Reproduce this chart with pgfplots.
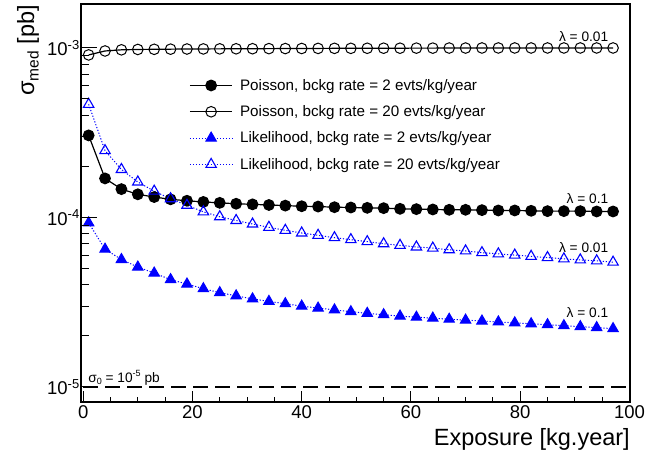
\documentclass[border=0pt]{standalone}
\usepackage{fontspec}
\setmainfont{Liberation Sans}
\usepackage{pgfplots}
\pgfplotsset{compat=1.18}
\definecolor{rootblue}{rgb}{0,0,1}
\begin{document}
\begin{tikzpicture}
\path[use as bounding box] (-81pt,-54pt) rectangle (589pt,402pt);
\begin{axis}[
  at={(0pt,0pt)}, anchor=south west,
  scale only axis, width=549pt, height=398pt,
  ymode=log, xmin=-0.4, xmax=100.1, ymin=8.155e-6, ymax=1.817e-3,
  axis line style={line width=1.5pt},
  xtick={0,20,40,60,80,100}, xticklabels={0,20,40,60,80,100},
  minor x tick num=3,
  ytick=\empty,
  xtick pos=lower, ytick pos=left, tick align=inside,
  major tick length=11pt, minor tick length=5.5pt,
  tick style={black, line width=1pt},
  xticklabel style={font=\fontsize{18.5}{21}\selectfont},
  xlabel={Exposure [kg.year]},
  xlabel style={font=\fontsize{23.5}{26}\selectfont, at={(axis description cs:1,0)}, anchor=north east, inner sep=0pt, yshift=-26pt},
  legend style={at={(axis description cs:0,1)}, anchor=north west, xshift=105pt, yshift=-71pt, draw=none, fill=none, font=\fontsize{15.2}{17}\selectfont, row sep=9.8pt, /tikz/every odd column/.append style={column sep=5pt}},
  legend cell align=left,
  legend image code/.code={\draw[mark repeat=2,mark phase=2,#1] plot coordinates {(0cm,0cm) (0.75cm,0cm) (1.5cm,0cm)};},
]
\addplot[black, line width=1.2pt, mark=*, mark size=5.3pt, mark options={solid}] coordinates {
(1,3.05e-4) (4,1.70e-4) (7,1.47e-4) (10,1.37e-4) (13,1.32e-4) (16,1.28e-4) (19,1.255e-4) (22,1.235e-4) (25,1.22e-4) (28,1.205e-4) (31,1.195e-4) (34,1.185e-4) (37,1.175e-4) (40,1.165e-4) (43,1.16e-4) (46,1.15e-4) (49,1.145e-4) (52,1.14e-4) (55,1.135e-4) (58,1.125e-4) (61,1.12e-4) (64,1.115e-4) (67,1.11e-4) (70,1.11e-4) (73,1.105e-4) (76,1.10e-4) (79,1.10e-4) (82,1.095e-4) (85,1.09e-4) (88,1.09e-4) (91,1.09e-4) (94,1.085e-4) (97,1.085e-4)};
\addlegendentry{Poisson, bckg rate = 2 evts/kg/year}
\addplot[black, line width=1.2pt, mark=o, mark size=5.3pt, mark options={solid, line width=1pt}] coordinates {
(1,9.10e-4) (4,9.60e-4) (7,9.75e-4) (10,9.80e-4) (13,9.82e-4) (16,9.84e-4) (19,9.86e-4) (22,9.87e-4) (25,9.88e-4) (28,9.89e-4) (31,9.90e-4) (34,9.91e-4) (37,9.92e-4) (40,9.93e-4) (43,9.94e-4) (46,9.95e-4) (49,9.95e-4) (52,9.96e-4) (55,9.97e-4) (58,9.97e-4) (61,9.98e-4) (64,9.98e-4) (67,9.99e-4) (70,9.99e-4) (73,1.00e-3) (76,1.00e-3) (79,1.00e-3) (82,1.00e-3) (85,1.00e-3) (88,1.00e-3) (91,1.00e-3) (94,1.00e-3) (97,1.00e-3)};
\addlegendentry{Poisson, bckg rate = 20 evts/kg/year}
\addplot[rootblue, line width=1pt, dash pattern=on 1.2pt off 1.8pt, mark=triangle*, mark size=6pt, mark options={solid, fill=rootblue}] coordinates {
(1,9.30e-5) (4,6.50e-5) (7,5.65e-5) (10,5.10e-5) (13,4.70e-5) (16,4.30e-5) (19,4.05e-5) (22,3.80e-5) (25,3.60e-5) (28,3.45e-5) (31,3.31e-5) (34,3.20e-5) (37,3.10e-5) (40,3.00e-5) (43,2.92e-5) (46,2.85e-5) (49,2.78e-5) (52,2.72e-5) (55,2.67e-5) (58,2.62e-5) (61,2.58e-5) (64,2.55e-5) (67,2.51e-5) (70,2.48e-5) (73,2.45e-5) (76,2.42e-5) (79,2.39e-5) (82,2.36e-5) (85,2.33e-5) (88,2.30e-5) (91,2.27e-5) (94,2.24e-5) (97,2.21e-5)};
\addlegendentry{Likelihood, bckg rate = 2 evts/kg/year}
\addplot[rootblue, line width=1pt, dash pattern=on 1.2pt off 1.8pt, mark=triangle, mark size=6pt, mark options={solid, line width=1.1pt}] coordinates {
(1,4.65e-4) (4,2.48e-4) (7,1.92e-4) (10,1.62e-4) (13,1.43e-4) (16,1.29e-4) (19,1.18e-4) (22,1.08e-4) (25,1.01e-4) (28,9.60e-5) (31,9.15e-5) (34,8.75e-5) (37,8.40e-5) (40,8.10e-5) (43,7.85e-5) (46,7.60e-5) (49,7.40e-5) (52,7.20e-5) (55,7.00e-5) (58,6.85e-5) (61,6.70e-5) (64,6.60e-5) (67,6.45e-5) (70,6.35e-5) (73,6.20e-5) (76,6.10e-5) (79,6.00e-5) (82,5.90e-5) (85,5.80e-5) (88,5.70e-5) (91,5.62e-5) (94,5.55e-5) (97,5.45e-5)};
\addlegendentry{Likelihood, bckg rate = 20 evts/kg/year}
\addplot[black, line width=1.5pt, dash pattern=on 15pt off 7pt, forget plot] coordinates {(0,1e-5) (100,1e-5)};
\node[anchor=base west, font=\fontsize{13.7}{15}\selectfont, inner sep=0pt] at (axis cs:0.92,1.066e-5) {σ\raisebox{-2.5pt}{\fontsize{9}{10}\selectfont 0} = 10\raisebox{5.5pt}{\fontsize{9}{10}\selectfont -5} pb};
\node[anchor=base east, font=\fontsize{13.7}{15}\selectfont, inner sep=0pt] at (axis cs:96.15,1.096e-3) {λ = 0.01};
\node[anchor=base east, font=\fontsize{13.7}{15}\selectfont, inner sep=0pt] at (axis cs:96.15,1.214e-4) {λ = 0.1};
\node[anchor=base east, font=\fontsize{13.7}{15}\selectfont, inner sep=0pt] at (axis cs:96.15,6.24e-5) {λ = 0.01};
\node[anchor=base east, font=\fontsize{13.7}{15}\selectfont, inner sep=0pt] at (axis cs:96.15,2.58e-5) {λ = 0.1};
\end{axis}
\begin{axis}[
  at={(0pt,0pt)}, anchor=south west,
  scale only axis, width=549pt, height=398pt,
  ymode=log, xmin=-0.4, xmax=100.1, ymin=8.155e-6, ymax=1.817e-3,
  axis line style={line width=1.5pt},
  xtick=\empty,
  ytick={1e-5,1e-4,1e-3},
  yticklabels={10\raisebox{6.5pt}{\fontsize{13}{14}\selectfont -5},10\raisebox{6.5pt}{\fontsize{13}{14}\selectfont -4},10\raisebox{6.5pt}{\fontsize{13}{14}\selectfont -3}},
  minor ytick={2e-5,3e-5,4e-5,5e-5,6e-5,7e-5,8e-5,9e-5,2e-4,3e-4,4e-4,5e-4,6e-4,7e-4,8e-4,9e-4},
  ytick pos=left, tick align=inside,
  major tick length=16pt, minor tick length=8pt,
  tick style={black, line width=1pt},
  yticklabel style={font=\fontsize{18.5}{21}\selectfont, inner sep=1.5pt},
  ylabel={σ\raisebox{-4.5pt}{\fontsize{15.5}{17}\selectfont med} [pb]},
  ylabel style={font=\fontsize{23.5}{26}\selectfont, at={(axis description cs:-0.1166,0.9975)}, anchor=north east, inner sep=0pt},
]
\addplot[draw=none, mark=none, forget plot] coordinates {(50,1e-4) (60,1e-4)};
\end{axis}
\end{tikzpicture}
\end{document}
